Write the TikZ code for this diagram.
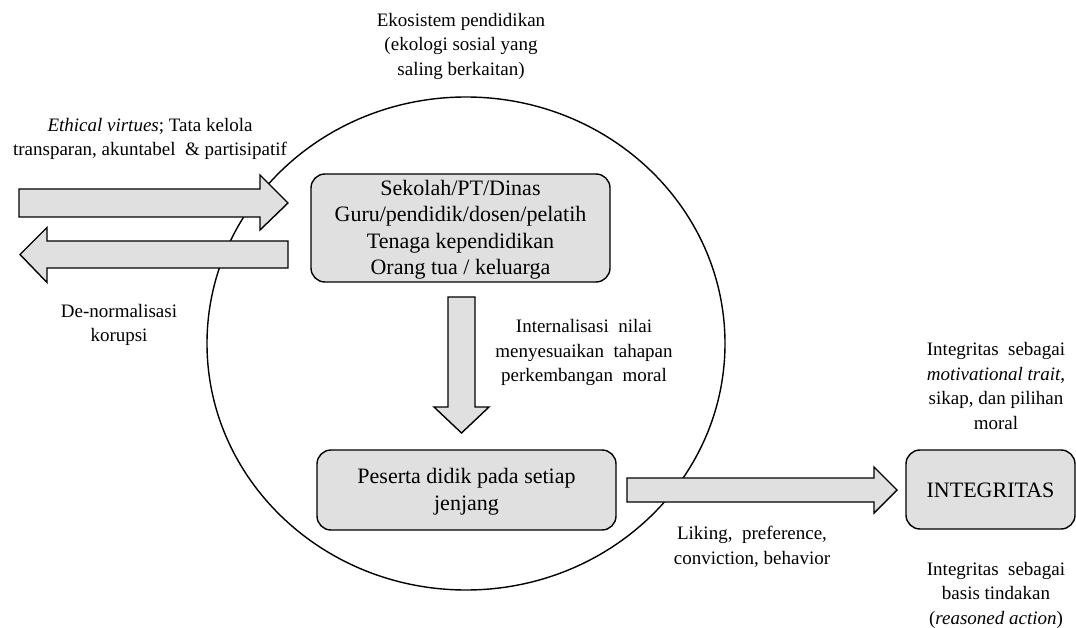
\documentclass[tikz,border=0pt]{standalone}
\usepackage{fontspec}
\setmainfont{Liberation Serif}
\usetikzlibrary{calc}
\begin{document}
\begin{tikzpicture}[x=1pt,y=-1pt,
  every node/.style={inner sep=0pt,outer sep=0pt},
  lbl/.style={align=center,font=\fontsize{19}{24.5}\selectfont},
  boxtext/.style={align=center,font=\fontsize{22}{26.5}\selectfont},
  rbox/.style={draw=black,line width=1.4pt,fill=boxgray,rounded corners=14pt},
  blockarrow/.style={draw=black,line width=1.4pt,fill=boxgray,line join=miter},
  ring/.style={draw=black,line width=1.4pt}
]
\definecolor{boxgray}{HTML}{E0E0E0}
\useasboundingbox (0,0) rectangle (1076,628);

% ecosystem circle
\draw[ring] (466,343.5) ellipse [x radius=259, y radius=246.5];
\node[lbl] (eko) at (461,46) {Ekosistem pendidikan\\(ekologi sosial yang\\saling berkaitan)};

% boxes
\path[rbox] (311,174) rectangle (610,282);
\node[boxtext] (sek) at (460.5,229.5) {Sekolah/PT/Dinas\\Guru/pendidik/dosen/pelatih\\Tenaga kependidikan\\Orang tua / keluarga};

\path[rbox] (317,450) rectangle (616,530);
\node[boxtext] (pes) at (466.5,491.5) {Peserta didik pada setiap\\jenjang};

\path[rbox] (906,450) rectangle (1075,529);
\node[boxtext] (int) at (990.5,490.5) {INTEGRITAS};

% block arrows
% in: right-pointing
\coordinate (inTail) at (19,203);
\coordinate (inTip) at (288,203);
\draw[blockarrow] ($(inTail)+(0,-14)$) -- ($(inTip)+(-28,-14)$) -- ($(inTip)+(-28,-28)$) -- (inTip)
  -- ($(inTip)+(-28,27)$) -- ($(inTip)+(-28,14)$) -- ($(inTail)+(0,14)$) -- cycle;
% out: left-pointing
\coordinate (outTail) at (288,254.5);
\coordinate (outTip) at (20,254.5);
\draw[blockarrow] ($(outTail)+(0,-13.5)$) -- ($(outTip)+(27,-13.5)$) -- ($(outTip)+(27,-27)$) -- (outTip)
  -- ($(outTip)+(27,28)$) -- ($(outTip)+(27,13.5)$) -- ($(outTail)+(0,13.5)$) -- cycle;
% down
\coordinate (dnTail) at (461.5,297);
\coordinate (dnTip) at (461.5,433);
\draw[blockarrow] ($(dnTail)+(-13.5,0)$) -- ($(dnTip)+(-13.5,-26)$) -- ($(dnTip)+(-27.5,-26)$) -- (dnTip)
  -- ($(dnTip)+(27.5,-26)$) -- ($(dnTip)+(13.5,-26)$) -- ($(dnTail)+(13.5,0)$) -- cycle;
% to integritas
\coordinate (riTail) at (627,490);
\coordinate (riTip) at (897,490);
\draw[blockarrow] ($(riTail)+(0,-12)$) -- ($(riTip)+(-23,-12)$) -- ($(riTip)+(-23,-23)$) -- (riTip)
  -- ($(riTip)+(-23,23)$) -- ($(riTip)+(-23,12)$) -- ($(riTail)+(0,12)$) -- cycle;

% labels
\node[lbl] (eth) at (150,139) {\textit{Ethical virtues}; Tata kelola\\transparan, akuntabel \ \& partisipatif};
\node[lbl] (den) at (119,325) {De-normalisasi\\korupsi};
\node[lbl] (inl) at (584,352.5) {Internalisasi \ nilai\\menyesuaikan \ tahapan\\perkembangan \ moral};
\node[lbl] (lik) at (752,547) {Liking, \ preference,\\conviction, behavior};
\node[lbl] (mot) at (996,386) {Integritas \ sebagai\\\textit{motivational trait},\\sikap, dan pilihan\\moral};
\node[lbl] (bas) at (996,595) {Integritas \ sebagai\\basis tindakan\\(\textit{reasoned action})};
\end{tikzpicture}
\end{document}
